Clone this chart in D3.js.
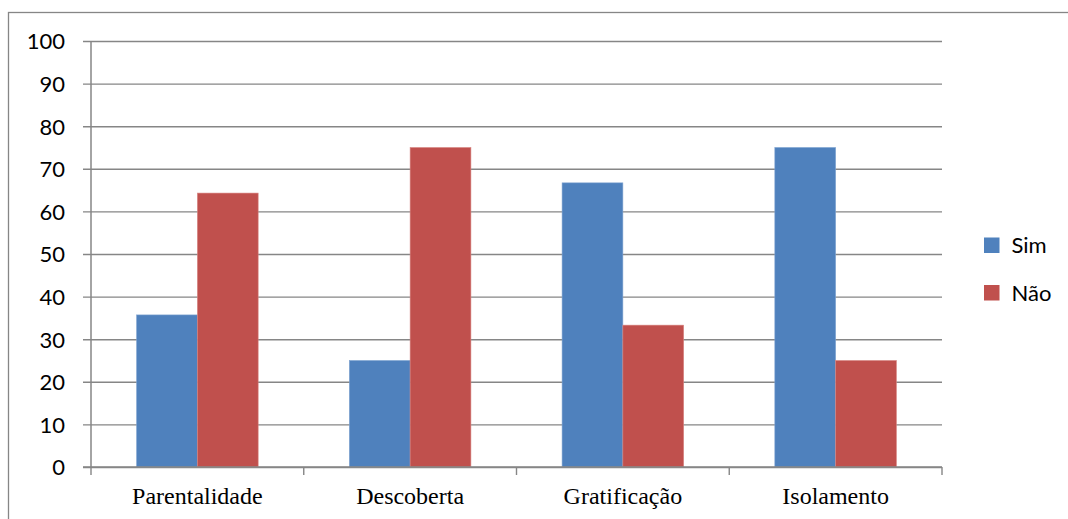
<!DOCTYPE html>
<html>
<head>
<meta charset="utf-8">
<script src="https://cdn.jsdelivr.net/npm/d3@7"></script>
<style>
  html, body { margin: 0; padding: 0; background: #fff; }
  svg { display: block; }
</style>
</head>
<body>
<svg id="chart" width="1068" height="519"></svg>
<script>
// Categories and series values (percent)
const categories = ["Parentalidade", "Descoberta", "Gratificação", "Isolamento"];
const seriesNames = ["Sim", "Não"];
const simValues = [35.7, 25, 66.7, 75];
const naoValues = [64.3, 75, 33.3, 25];
const yTicks = [0, 10, 20, 30, 40, 50, 60, 70, 80, 90, 100];
const colors = ["#4F81BD", "#C0504D"];

const svg = d3.select("#chart");
const W = 1068, H = 519;
const plot = { left: 91, right: 942, top: 41, bottom: 467 };
const axisColor = "#868686";

// Outer chart frame (open to the right and bottom edges)
svg.append("rect")
  .attr("x", 8.5).attr("y", 12.5)
  .attr("width", W + 20).attr("height", H + 20)
  .attr("fill", "#fff")
  .attr("stroke", axisColor).attr("stroke-width", 1.3);

const x = d3.scaleBand().domain(categories).range([plot.left, plot.right]).padding(0);
const xs = d3.scaleBand().domain(seriesNames).range([0, x.bandwidth()])
  .paddingInner(0).paddingOuter(0.75);
const y = d3.scaleLinear().domain([0, 100]).range([plot.bottom, plot.top]);

// Horizontal gridlines with left tick marks, drawn by a D3 axis
const yAxis = d3.axisLeft(y).tickValues(yTicks)
  .tickSize(-(plot.right - plot.left)).tickSizeOuter(0).tickPadding(18);
const gy = svg.append("g").attr("transform", `translate(${plot.left},0)`).call(yAxis);
gy.select(".domain").remove();
gy.selectAll(".tick line").attr("stroke", axisColor).attr("stroke-width", 1.4)
  .attr("x1", -8);
gy.selectAll(".tick text")
  .attr("fill", "#000")
  .attr("font-family", "Lato, 'Open Sans', sans-serif")
  .attr("font-size", 22)
  .attr("dy", "0.36em")
  .attr("x", -26);

// Bars
const rows = categories.map((c, i) => ({ cat: c, values: [simValues[i], naoValues[i]] }));
const groups = svg.append("g").selectAll("g").data(rows).join("g")
  .attr("transform", d => `translate(${x(d.cat)},0)`);
groups.selectAll("rect")
  .data(d => d.values.map((v, k) => ({ key: seriesNames[k], value: v, k })))
  .join("rect")
  .attr("x", d => xs(d.key))
  .attr("width", xs.bandwidth())
  .attr("y", d => y(d.value))
  .attr("height", d => y(0) - y(d.value))
  .attr("fill", d => colors[d.k])
  .attr("stroke", d => d.k === 0 ? "#7fa3d0" : "#d88582")
  .attr("stroke-width", 0.6);

// Vertical axis line
svg.append("line")
  .attr("x1", plot.left).attr("x2", plot.left)
  .attr("y1", plot.top).attr("y2", plot.bottom)
  .attr("stroke", axisColor).attr("stroke-width", 1.5);

// Category axis: baseline, boundary ticks and labels
const boundaries = categories.map(c => x(c)).concat([plot.right]);
svg.append("line")
  .attr("x1", plot.left - 8).attr("x2", plot.right)
  .attr("y1", plot.bottom).attr("y2", plot.bottom)
  .attr("stroke", axisColor).attr("stroke-width", 1.5);
svg.append("g").selectAll("line").data(boundaries).join("line")
  .attr("x1", d => d).attr("x2", d => d)
  .attr("y1", plot.bottom).attr("y2", plot.bottom + 8)
  .attr("stroke", axisColor).attr("stroke-width", 1.4);
svg.append("g").selectAll("text").data(categories).join("text")
  .attr("x", d => x(d) + x.bandwidth() / 2)
  .attr("y", 504)
  .attr("text-anchor", "middle")
  .attr("font-family", "'Liberation Serif', 'Times New Roman', serif")
  .attr("font-size", 24)
  .attr("fill", "#000")
  .text(d => d);

// Legend
const legend = svg.append("g").selectAll("g").data(seriesNames).join("g")
  .attr("transform", (d, i) => `translate(984,${237.5 + i * 47.5})`);
legend.append("rect")
  .attr("width", 15.5).attr("height", 15.5)
  .attr("fill", (d, i) => colors[i]);
legend.append("text")
  .attr("x", 27.5).attr("y", 15.5)
  .attr("font-family", "Lato, 'Open Sans', sans-serif")
  .attr("font-size", 22)
  .attr("fill", "#000")
  .text(d => d);
</script>
</body>
</html>
